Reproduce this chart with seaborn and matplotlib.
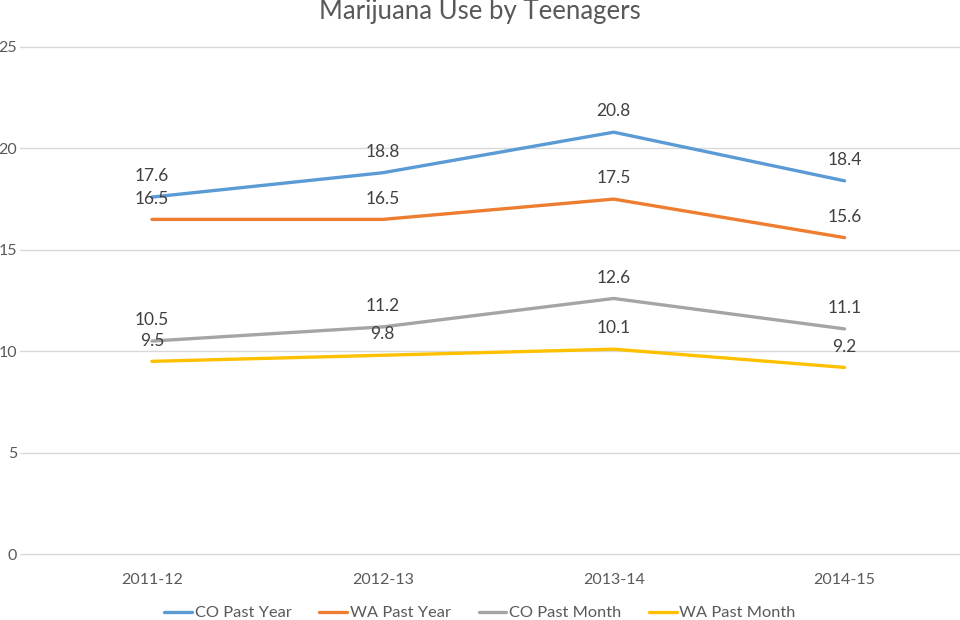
import matplotlib
matplotlib.use("Agg")
import matplotlib.pyplot as plt
import seaborn as sns
import pandas as pd
from matplotlib.lines import Line2D

years = ["2011-12", "2012-13", "2013-14", "2014-15"]
series_names = ["CO Past Year", "WA Past Year", "CO Past Month", "WA Past Month"]
co_past_year = [17.6, 18.8, 20.8, 18.4]
wa_past_year = [16.5, 16.5, 17.5, 15.6]
co_past_month = [10.5, 11.2, 12.6, 11.1]
wa_past_month = [9.5, 9.8, 10.1, 9.2]
y_ticks = [0, 5, 10, 15, 20, 25]
colors = ["#5B9BD5", "#ED7D31", "#A5A5A5", "#FFC000"]

values = [co_past_year, wa_past_year, co_past_month, wa_past_month]
rows = []
for name, vals in zip(series_names, values):
    for i, (yr, v) in enumerate(zip(years, vals)):
        rows.append({"idx": i, "year": yr, "value": v, "series": name})
df = pd.DataFrame(rows)

sns.set_theme(style="white")
plt.rcParams["font.family"] = ["Lato", "DejaVu Sans"]

fig = plt.figure(figsize=(9.6, 6.2), dpi=100)
ax = fig.add_axes([20 / 960, 1 - 554 / 620, 1 - 20 / 960, (554 - 47) / 620])

sns.lineplot(data=df, x="idx", y="value", hue="series", hue_order=series_names,
             palette=colors, linewidth=2.4, sort=False, ax=ax, legend=False)

for name, vals in zip(series_names, values):
    for i, v in enumerate(vals):
        ax.annotate(f"{v:.1f}", (i, v), xytext=(0, 15), textcoords="offset points",
                    ha="center", va="center", fontsize=12.5, color="#404040")

ax.set_xlim(-0.5 - 16.5 / 231, 3.5)
ax.set_ylim(0, 25)
ax.set_yticks(y_ticks)
ax.set_yticklabels([str(t) for t in y_ticks])
ax.set_xticks(range(len(years)))
ax.set_xticklabels(years)
ax.yaxis.grid(True, color="#D9D9D9", linewidth=1)
ax.xaxis.grid(False)
for gl in ax.get_ygridlines():
    gl.set_clip_on(False)
for s in ax.spines.values():
    s.set_visible(False)
ax.tick_params(axis="y", length=0, pad=2, labelsize=11.5, labelcolor="#595959")
ax.tick_params(axis="x", length=0, pad=14, labelsize=11.5, labelcolor="#595959")
ax.set_xlabel("")
ax.set_ylabel("")

fig.text(0.5, 1 - 12 / 620, "Marijuana Use by Teenagers", ha="center", va="center",
         fontsize=18.5, color="#595959")

handles = [Line2D([0], [0], color=c, linewidth=2.4) for c in colors]
fig.legend(handles, series_names, loc="center", bbox_to_anchor=(0.5, 1 - 613 / 620),
           ncol=4, frameon=False, fontsize=11.8, handlelength=1.7, handletextpad=0.15,
           columnspacing=1.7, labelcolor="#595959")

fig.savefig("out.png", dpi=100, facecolor="white")
